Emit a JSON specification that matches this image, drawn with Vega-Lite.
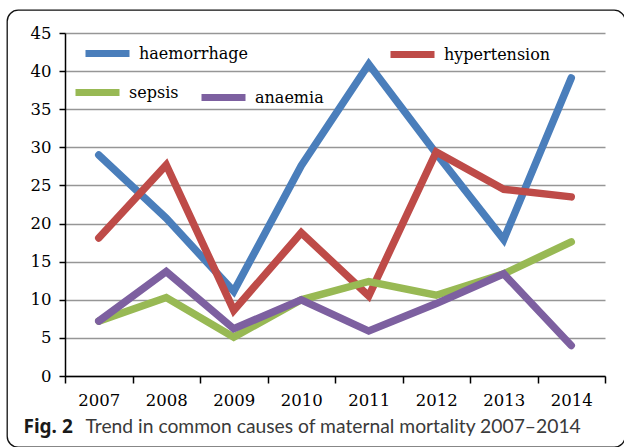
{
  "$schema": "https://vega.github.io/schema/vega-lite/v6.json",
  "width": 618,
  "height": 437,
  "autosize": {"type": "none"},
  "padding": {"left": 7, "top": 10, "right": 0, "bottom": 0},
  "background": "white",
  "config": {
    "view": {"stroke": "#111111", "strokeWidth": 1.3, "cornerRadius": 11},
    "axis": {
      "domainColor": "#000000",
      "domainWidth": 1.5,
      "tickColor": "#000000",
      "tickWidth": 1.5,
      "labelFont": "DejaVu Serif",
      "labelFontSize": 16.5,
      "labelColor": "#000000",
      "gridColor": "#969696",
      "gridWidth": 1.5
    },
    "legend": {
      "labelFont": "DejaVu Serif",
      "labelFontSize": 16,
      "labelColor": "#000000",
      "symbolType": "stroke",
      "symbolSize": 1936,
      "symbolStrokeWidth": 7,
      "labelOffset": 6,
      "padding": 0,
      "titleFontSize": 0
    }
  },
  "data": {
    "values": [
      {"year": "2007", "cause": "haemorrhage", "value": 29.0},
      {"year": "2008", "cause": "haemorrhage", "value": 20.7},
      {"year": "2009", "cause": "haemorrhage", "value": 11.1},
      {"year": "2010", "cause": "haemorrhage", "value": 27.6},
      {"year": "2011", "cause": "haemorrhage", "value": 40.9},
      {"year": "2012", "cause": "haemorrhage", "value": 29.2},
      {"year": "2013", "cause": "haemorrhage", "value": 17.9},
      {"year": "2014", "cause": "haemorrhage", "value": 39.1},
      {"year": "2007", "cause": "hypertension", "value": 18.1},
      {"year": "2008", "cause": "hypertension", "value": 27.7},
      {"year": "2009", "cause": "hypertension", "value": 8.6},
      {"year": "2010", "cause": "hypertension", "value": 18.8},
      {"year": "2011", "cause": "hypertension", "value": 10.5},
      {"year": "2012", "cause": "hypertension", "value": 29.4},
      {"year": "2013", "cause": "hypertension", "value": 24.5},
      {"year": "2014", "cause": "hypertension", "value": 23.5},
      {"year": "2007", "cause": "sepsis", "value": 7.2},
      {"year": "2008", "cause": "sepsis", "value": 10.3},
      {"year": "2009", "cause": "sepsis", "value": 5.1},
      {"year": "2010", "cause": "sepsis", "value": 10.0},
      {"year": "2011", "cause": "sepsis", "value": 12.4},
      {"year": "2012", "cause": "sepsis", "value": 10.6},
      {"year": "2013", "cause": "sepsis", "value": 13.4},
      {"year": "2014", "cause": "sepsis", "value": 17.6},
      {"year": "2007", "cause": "anaemia", "value": 7.2},
      {"year": "2008", "cause": "anaemia", "value": 13.7},
      {"year": "2009", "cause": "anaemia", "value": 6.2},
      {"year": "2010", "cause": "anaemia", "value": 10.0},
      {"year": "2011", "cause": "anaemia", "value": 5.9},
      {"year": "2012", "cause": "anaemia", "value": 9.5},
      {"year": "2013", "cause": "anaemia", "value": 13.4},
      {"year": "2014", "cause": "anaemia", "value": 4.0}
    ]
  },
  "encoding": {
    "x": {
      "field": "year",
      "type": "ordinal",
      "scale": {"type": "band", "range": [58, 598], "paddingInner": 0, "paddingOuter": 0},
      "axis": {
        "offset": -71,
        "labelAngle": 0,
        "tickBand": "extent",
        "tickSize": 7,
        "labelPadding": 9,
        "grid": false,
        "title": "Trend in common causes of maternal mortality 2007–2014",
        "titleFont": "Lato",
        "titleFontSize": 19.3,
        "titleFontWeight": "normal",
        "titleColor": "#3a3a3a",
        "titleAnchor": "start",
        "titleAlign": "left",
        "titleBaseline": "alphabetic",
        "titleX": 78,
        "titleY": 56
      }
    },
    "y": {
      "field": "value",
      "type": "quantitative",
      "scale": {"domain": [0, 45], "range": [366, 23], "nice": false},
      "axis": {
        "offset": -58,
        "values": [0, 5, 10, 15, 20, 25, 30, 35, 40, 45],
        "tickSize": 6,
        "labelPadding": 8,
        "grid": true,
        "title": "Fig. 2",
        "titleFont": "Noto Sans",
        "titleFontSize": 19,
        "titleFontWeight": "bold",
        "titleColor": "#1a1a1a",
        "titleAngle": 0,
        "titleAnchor": "start",
        "titleAlign": "left",
        "titleBaseline": "alphabetic",
        "titleX": -42,
        "titleY": 422
      }
    }
  },
  "layer": [
    {
      "transform": [{"filter": "datum.cause === 'haemorrhage'"}],
      "mark": {"type": "line", "strokeWidth": 7.5, "strokeCap": "round", "strokeJoin": "miter"},
      "encoding": {
        "color": {"field": "cause", "type": "nominal",
          "scale": {"domain": ["haemorrhage"], "range": ["#4A7EBB"]},
          "legend": {"orient": "none", "legendX": 75, "legendY": 18, "title": null}}
      }
    },
    {
      "transform": [{"filter": "datum.cause === 'hypertension'"}],
      "mark": {"type": "line", "strokeWidth": 7.5, "strokeCap": "round", "strokeJoin": "miter"},
      "encoding": {
        "color": {"field": "cause", "type": "nominal",
          "scale": {"domain": ["hypertension"], "range": ["#BE4B48"]},
          "legend": {"orient": "none", "legendX": 380, "legendY": 19, "title": null}}
      }
    },
    {
      "transform": [{"filter": "datum.cause === 'sepsis'"}],
      "mark": {"type": "line", "strokeWidth": 7.5, "strokeCap": "round", "strokeJoin": "miter"},
      "encoding": {
        "color": {"field": "cause", "type": "nominal",
          "scale": {"domain": ["sepsis"], "range": ["#98B954"]},
          "legend": {"orient": "none", "legendX": 65, "legendY": 57, "title": null}}
      }
    },
    {
      "transform": [{"filter": "datum.cause === 'anaemia'"}],
      "mark": {"type": "line", "strokeWidth": 7.5, "strokeCap": "round", "strokeJoin": "miter"},
      "encoding": {
        "color": {"field": "cause", "type": "nominal",
          "scale": {"domain": ["anaemia"], "range": ["#7D60A0"]},
          "legend": {"orient": "none", "legendX": 191, "legendY": 62, "title": null}}
      }
    }
  ],
  "resolve": {"scale": {"color": "independent"}}
}
